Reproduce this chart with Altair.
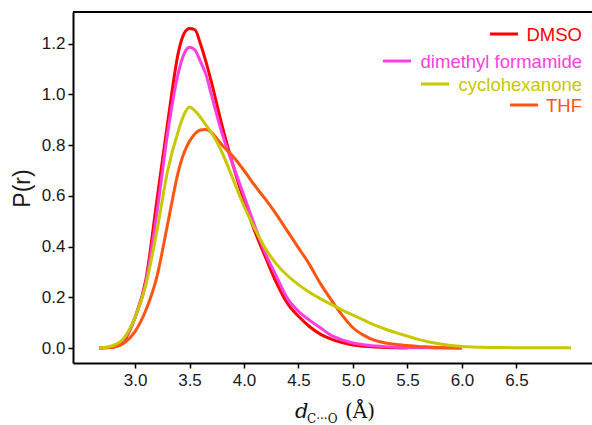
import altair as alt
import pandas as pd

# ---- data ----
r_values = [2.67, 2.8, 2.9, 3.0, 3.1, 3.2, 3.3, 3.4, 3.45, 3.5, 3.55, 3.6, 3.65,
            3.7, 3.8, 3.9, 4.0, 4.1, 4.2, 4.3, 4.4, 4.5, 4.6, 4.7, 4.8, 4.9,
            5.0, 5.1, 5.2, 5.3, 5.4, 5.5, 5.6, 5.7, 5.8, 5.9, 6.0, 6.1, 6.2,
            6.3, 6.4, 6.5, 6.6, 6.7, 6.8, 6.9, 7.0]

dmso = [0.0, 0.004, 0.03, 0.12, 0.27, 0.58, 0.89, 1.17, 1.24, 1.26, 1.255, 1.20, 1.13,
        1.05, 0.875, 0.72, 0.58, 0.46, 0.355, 0.255, 0.175, 0.125, 0.085, 0.055, 0.035, 0.022,
        0.012, 0.007, 0.004, 0.002, 0.001, 0.0]

dmf = [0.0, 0.004, 0.035, 0.12, 0.26, 0.53, 0.85, 1.09, 1.16, 1.186, 1.175, 1.13, 1.08,
       1.0, 0.845, 0.72, 0.60, 0.48, 0.37, 0.28, 0.195, 0.145, 0.11, 0.08, 0.05, 0.032,
       0.02, 0.013, 0.008, 0.005, 0.003, 0.002, 0.001, 0.001, 0.0, 0.0, 0.0]

cyclohexanone = [0.0, 0.01, 0.04, 0.12, 0.25, 0.46, 0.70, 0.86, 0.92, 0.95, 0.935, 0.91, 0.88,
                 0.85, 0.77, 0.665, 0.56, 0.47, 0.39, 0.33, 0.285, 0.25, 0.22, 0.195, 0.172, 0.15,
                 0.13, 0.11, 0.09, 0.074, 0.06, 0.047, 0.034, 0.024, 0.016, 0.01, 0.006, 0.004, 0.003,
                 0.002, 0.002, 0.001, 0.001, 0.001, 0.001, 0.001, 0.001]

thf = [0.0, 0.003, 0.02, 0.065, 0.15, 0.28, 0.49, 0.70, 0.77, 0.815, 0.845, 0.86, 0.862,
       0.85, 0.80, 0.755, 0.70, 0.64, 0.585, 0.525, 0.46, 0.395, 0.33, 0.255, 0.19, 0.13,
       0.08, 0.05, 0.03, 0.02, 0.014, 0.01, 0.006, 0.004, 0.002, 0.001, 0.0]

series_names = ["DMSO", "dimethyl formamide", "cyclohexanone", "THF"]
series_values = [dmso, dmf, cyclohexanone, thf]
series_colors = ["#ff0000", "#ff3ee0", "#c8c800", "#ff5511"]

x_ticks = [3.0, 3.5, 4.0, 4.5, 5.0, 5.5, 6.0, 6.5]
y_ticks = [0.0, 0.2, 0.4, 0.6, 0.8, 1.0, 1.2]

W, H = 519, 351
x_scale = alt.Scale(domain=[2.431, 7.193], nice=False, zero=False)
y_scale = alt.Scale(domain=[-0.059, 1.325], nice=False, zero=False)

def series_df(name, vals):
    return pd.DataFrame({"r": r_values[:len(vals)], "P": vals, "solvent": name})

# drawing order (z-order) like the reference
draw_order = [0, 1, 3, 2]
layers = []
for i in draw_order:
    df = series_df(series_names[i], series_values[i])
    layers.append(
        alt.Chart(df).mark_line(color=series_colors[i], strokeWidth=3,
                                interpolate="monotone", clip=True).encode(
            x=alt.X("r:Q", scale=x_scale,
                    axis=alt.Axis(values=x_ticks, format=".1f", title="", grid=False)),
            y=alt.Y("P:Q", scale=y_scale,
                    axis=alt.Axis(values=y_ticks, format=".1f", title="P(r)", grid=False,
                                  titleX=-51, titleY=176, titleAngle=270,
                                  titleAlign="center", titleBaseline="middle")),
        )
    )

one = pd.DataFrame({"a": [0]})

# top border of the frame
layers.append(alt.Chart(one).mark_rule(color="black", strokeWidth=2).encode(
    x=alt.value(0), x2=alt.value(W), y=alt.value(0)))

# legend (labels right-aligned, key lines to their left)
legend_layout = [  # (y, line x0, line x1) in plot pixels
    (22, 417, 445),
    (49, 310, 338),
    (72, 348, 376),
    (93, 437, 465),
]
for i, (ly, lx0, lx1) in enumerate(legend_layout):
    layers.append(alt.Chart(one).mark_rule(color=series_colors[i], strokeWidth=3).encode(
        x=alt.value(lx0), x2=alt.value(lx1), y=alt.value(ly)))
    layers.append(alt.Chart(one).mark_text(
        text=series_names[i], align="right", baseline="middle", fontSize=18.5,
        font="Liberation Sans", color=series_colors[i]).encode(
        x=alt.value(509), y=alt.value(ly + 1)))

# x-axis title: italic d with subscript C···O, then (Å)
layers.append(alt.Chart(one).mark_text(
    text="d", align="left", baseline="alphabetic", fontSize=21, fontStyle="italic",
    font="DejaVu Serif", color="#111111").encode(x=alt.value(222), y=alt.value(406)))
layers.append(alt.Chart(one).mark_text(
    text="C···O", align="left", baseline="alphabetic", fontSize=12,
    font="DejaVu Serif", color="#111111").encode(x=alt.value(234), y=alt.value(411)))
layers.append(alt.Chart(one).mark_text(
    text="(Å)", align="left", baseline="alphabetic", fontSize=20,
    font="DejaVu Serif", color="#111111").encode(x=alt.value(272), y=alt.value(406)))

chart = alt.layer(*layers).properties(
    width=W, height=H,
    autosize=alt.AutoSizeParams(type="none"),
    padding={"left": 73, "top": 12, "right": 0, "bottom": 62},
    background="white",
).configure_view(stroke=None).configure_axis(
    labelFont="Liberation Sans", labelFontSize=17, labelColor="#1a1a1a",
    titleFont="Liberation Sans", titleFontSize=23, titleFontWeight="normal",
    titleColor="#1a1a1a",
    domainColor="black", domainWidth=2, tickColor="black", tickWidth=1.5,
    tickSize=5, labelPadding=3,
).configure_axisX(labelPadding=4)

chart.save("out.html", embed_options={"renderer": "svg", "actions": False})
